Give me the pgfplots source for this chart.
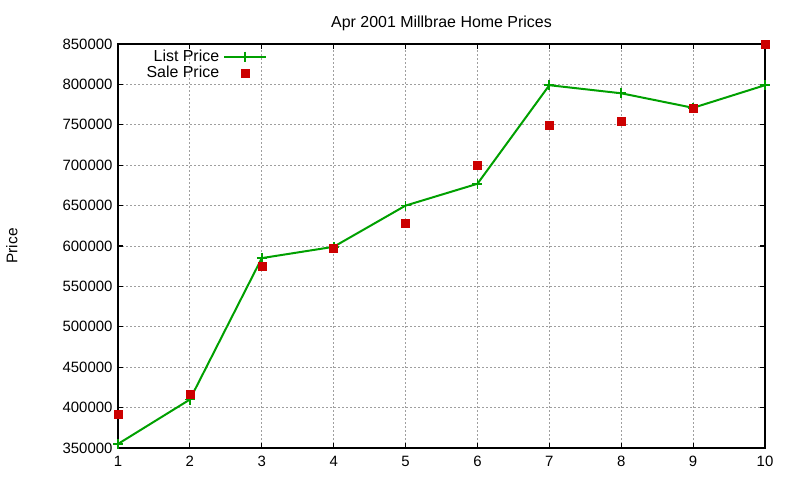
\documentclass[border=0pt]{standalone}
\usepackage{pgfplots}
\pgfplotsset{compat=1.18}
\usepackage{fontspec}
\setmainfont{Liberation Sans}
\definecolor{listgreen}{HTML}{00A000}
\definecolor{salered}{HTML}{CC0000}
\begin{document}
\begin{tikzpicture}[x=1bp,y=1bp]
\useasboundingbox (0,0) rectangle (800,480);
\begin{axis}[
  at={(118bp,32bp)}, anchor=south west,
  scale only axis, width=647bp, height=404bp,
  xmin=1, xmax=10, ymin=350000, ymax=850000,
  xtick={1,...,10},
  ytick={350000,400000,...,850000},
  scaled y ticks=false,
  yticklabel style={xshift=-2bp, /pgf/number format/fixed, /pgf/number format/1000 sep={}},
  /pgf/number format/assume math mode=true,
  tick label style={font=\fontsize{15}{17}\selectfont},
  xticklabel style={yshift=-5bp},
  title={Apr 2001 Millbrae Home Prices},
  title style={font=\fontsize{16}{18}\selectfont, yshift=4bp},
  ylabel={Price},
  ylabel style={font=\fontsize{15.5}{17}\selectfont, at={(axis description cs:-0.164,0.5)}, anchor=center},
  grid=major,
  major grid style={gray!75, dash pattern=on 2bp off 2bp, line width=0.9bp},
  axis line style={line width=1.1bp},
  tick style={black, line width=1.1bp},
  major tick length=5bp,
  tick align=inside,
  legend style={draw=none, fill=none, at={(0.033,0.995)}, anchor=north west,
    font=\fontsize{16}{16}\selectfont, row sep=-1bp,
    nodes={inner xsep=4bp}},
  legend cell align=right,
  legend plot pos=right,
  legend image code/.code={
    \draw[mark repeat=2,mark phase=2] plot coordinates {(0bp,0bp) (21bp,0bp) (42bp,0bp)};
  },
]
\addplot[listgreen, line width=2bp, mark=+, mark size=5bp, mark options={line width=1.8bp}]
  coordinates {(1,355000) (2,410000) (3,585000) (4,599000) (5,650000)
               (6,677000) (7,799000) (8,789000) (9,771000) (10,799000)};
\addlegendentry{List Price}
\addplot[only marks, mark=square*, mark size=4bp, salered]
  coordinates {(1,392000) (2,416000) (3,575000) (4,597000) (5,628000)
               (6,700000) (7,750000) (8,755000) (9,770000) (10,850000)};
\addlegendentry{Sale Price}
\end{axis}
\end{tikzpicture}
\end{document}
